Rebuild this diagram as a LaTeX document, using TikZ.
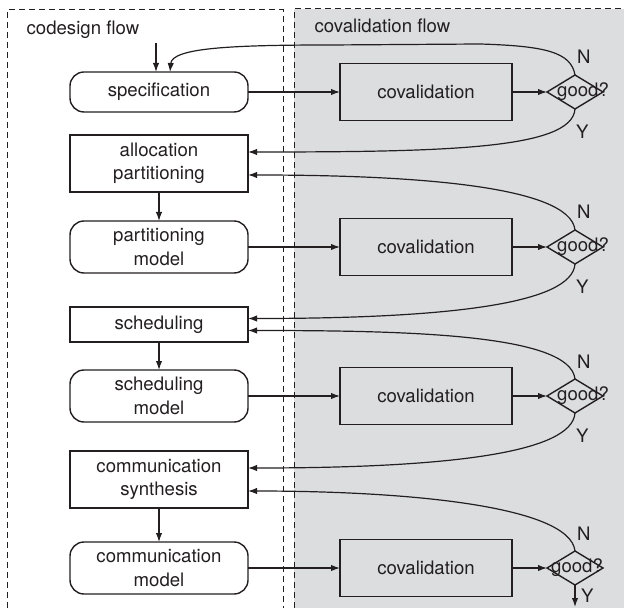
\documentclass[tikz,border=0pt]{standalone}
\usepackage{fontspec}
\setmainfont{TeX Gyre Heros}
\usepackage{tikz}
\usetikzlibrary{arrows.meta, calc, positioning, shapes.geometric}
\definecolor{flowgray}{RGB}{220,221,223}
\definecolor{ink}{RGB}{35,31,32}

\begin{document}
\begin{tikzpicture}[
    x=0.5pt, y=-0.5pt,
    font=\fontsize{9.3}{11.7}\selectfont,
    every node/.style={align=center, text=ink, outer sep=0pt},
    proc/.style={draw=ink, line width=0.7pt, minimum width=89pt, inner sep=2pt},
    model/.style={proc, rounded corners=7pt},
    covbox/.style={draw=ink, line width=0.7pt, minimum width=86pt, minimum height=28.5pt},
    check/.style={draw=ink, line width=0.7pt, diamond, minimum width=28pt, minimum height=17pt, inner sep=0pt},
    arrow/.style={-{Latex[length=4.5pt, width=3.2pt]}, draw=ink, line width=0.6pt},
    flowbox/.style={draw=ink, dash pattern=on 3pt off 2pt, line width=0.5pt},
    yn/.style={inner sep=0pt}
]
\useasboundingbox (0,0) rectangle (624,608);

% Flow areas
\fill[flowgray] (294,9) rectangle (624,608);
\draw[flowbox] (294,608) -- (294,9) -- (624,9);
\draw[flowbox] (7,608) -- (7,10) -- (283,10) -- (283,608);
\node[anchor=base west] (codes) at (20,35) {codesign flow};
\node[anchor=base west] (coval) at (308,33) {covalidation flow};

% Nodes
\node[model, minimum height=20pt] (spec) at (159,92) {specification};
\node[proc, minimum height=28.5pt, below=11.5pt of spec] (alloc) {allocation\\partitioning};
\node[model, minimum height=26pt, below=14.5pt of alloc] (pmodel) {partitioning\\model};
\node[proc, minimum height=17.5pt, below=17pt of pmodel] (sched) {scheduling};
\node[model, minimum height=26pt, below=14pt of sched] (smodel) {scheduling\\model};
\node[proc, minimum height=28.5pt, below=14.5pt of smodel] (csynth) {communication\\synthesis};
\node[model, minimum height=26pt, below=17pt of csynth] (cmodel) {communication\\model};

\node[covbox, right=46pt of spec] (cov1) {covalidation};
\node[covbox, right=46pt of pmodel] (cov2) {covalidation};
\node[covbox, right=46pt of smodel] (cov3) {covalidation};
\node[covbox, right=46pt of cmodel] (cov4) {covalidation};

\node[check, right=17.5pt of cov1, label={[xshift=4pt]center:good?}] (good1) {};
\node[check, right=17.5pt of cov2, label={[xshift=4pt]center:good?}] (good2) {};
\node[check, right=17.5pt of cov3, label={[xshift=4pt]center:good?}] (good3) {};
\node[check, right=17.5pt of cov4, label={[xshift=1pt]center:good?}] (good4) {};

\coordinate (in) at (156,43);
\coordinate (out) at (575,607);

% Arrows
\draw[arrow] (in) -- (in |- spec.north);
\draw[arrow] (alloc) -- (pmodel);
\draw[arrow] (sched) -- (smodel);
\draw[arrow] (csynth) -- (cmodel);

\draw[arrow] (spec) -- (cov1);
\draw[arrow] (pmodel) -- (cov2);
\draw[arrow] (smodel) -- (cov3);
\draw[arrow] (cmodel) -- (cov4);
\draw[arrow] (cov1) -- (good1);
\draw[arrow] (cov2) -- (good2);
\draw[arrow] (cov3) -- (good3);
\draw[arrow] (cov4) -- (good4);

% Feedback
\draw[arrow] (good1.north) node[yn, anchor=south west, xshift=1pt, yshift=5.5pt] {N}
    .. controls +(-4,-23) and +(65,2) .. (480,44) -- (330,45)
    .. controls +(-100,0) and +(2,-24) .. ([xshift=5.5pt]spec.north);
\draw[arrow] (good1.south) node[yn, anchor=north west, xshift=0.5pt, yshift=-8pt] {Y}
    .. controls +(-3,40) and +(200,0) .. ([yshift=5.75pt]alloc.east);
\draw[arrow] (good2.north) node[yn, anchor=south west, xshift=1pt, yshift=5.5pt] {N}
    .. controls +(-5,-45) and +(160,0) .. ([yshift=-5.75pt]alloc.east);
\draw[arrow] (good2.south) node[yn, anchor=north west, xshift=0.5pt, yshift=-8pt] {Y}
    .. controls +(-3,40) and +(200,0) .. ([yshift=3pt]sched.east);
\draw[arrow] (good3.north) node[yn, anchor=south west, xshift=1pt, yshift=5.5pt] {N}
    .. controls +(-5,-45) and +(160,0) .. ([yshift=-3pt]sched.east);
\draw[arrow] (good3.south) node[yn, anchor=north west, xshift=0.5pt, yshift=-8pt] {Y}
    .. controls +(-3,40) and +(200,0) .. ([yshift=5.75pt]csynth.east);
\draw[arrow] (good4.north) node[yn, anchor=south west, xshift=1pt, yshift=5.5pt] {N}
    .. controls +(-5,-45) and +(160,0) .. ([yshift=-5.75pt]csynth.east);
\draw[arrow] (good4.south) node[yn, anchor=north west, xshift=3pt, yshift=-2pt] {Y} -- (out);

\end{tikzpicture}
\end{document}
